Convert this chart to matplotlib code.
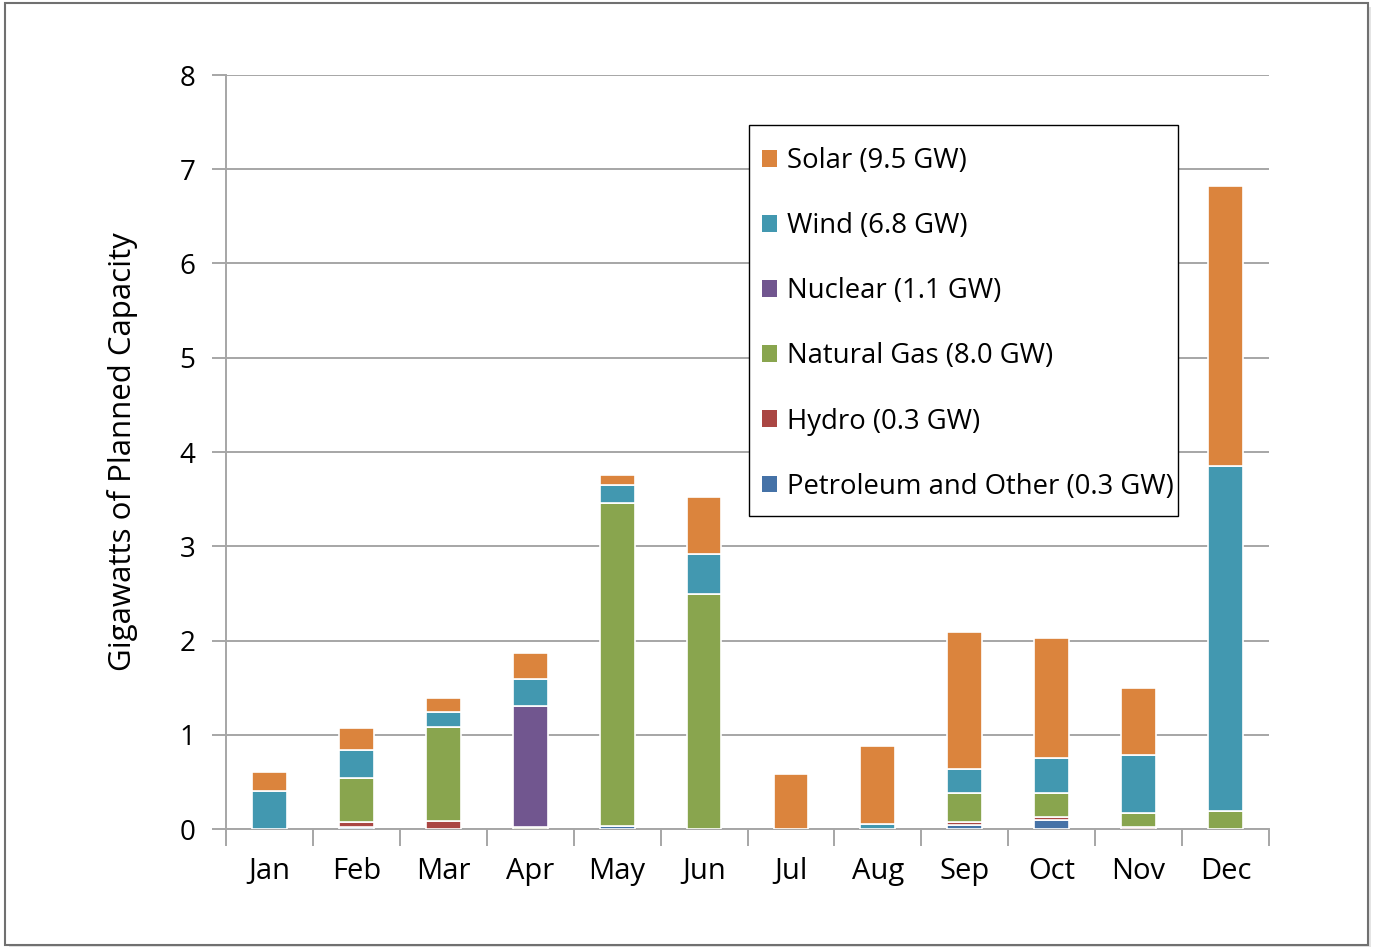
import numpy as np
import matplotlib
matplotlib.use('Agg')
import matplotlib.pyplot as plt
from matplotlib.patches import Patch, Rectangle

plt.rcParams['font.family'] = ['Open Sans', 'DejaVu Sans']

# Місяці
months = ['Jan', 'Feb', 'Mar', 'Apr', 'May', 'Jun', 'Jul', 'Aug', 'Sep', 'Oct', 'Nov', 'Dec']

# Потужність по джерелах, ГВт (знизу вгору)
petroleum = [0.00, 0.02, 0.00, 0.00, 0.03, 0.00, 0.00, 0.00, 0.04, 0.10, 0.00, 0.00]
hydro     = [0.00, 0.05, 0.09, 0.00, 0.00, 0.00, 0.00, 0.00, 0.03, 0.03, 0.02, 0.00]
gas       = [0.00, 0.47, 0.99, 0.02, 3.43, 2.49, 0.00, 0.00, 0.31, 0.25, 0.15, 0.19]
nuclear   = [0.00, 0.00, 0.00, 1.28, 0.00, 0.00, 0.00, 0.00, 0.00, 0.00, 0.00, 0.00]
wind      = [0.40, 0.30, 0.16, 0.29, 0.19, 0.43, 0.00, 0.05, 0.26, 0.37, 0.61, 3.66]
solar     = [0.21, 0.23, 0.15, 0.28, 0.11, 0.60, 0.58, 0.83, 1.45, 1.28, 0.72, 2.97]

series = [
    ('Petroleum and Other (0.3 GW)', petroleum, '#4572A7'),
    ('Hydro (0.3 GW)', hydro, '#AA4643'),
    ('Natural Gas (8.0 GW)', gas, '#89A54E'),
    ('Nuclear (1.1 GW)', nuclear, '#71568F'),
    ('Wind (6.8 GW)', wind, '#4298B0'),
    ('Solar (9.5 GW)', solar, '#DB843D'),
]

fig = plt.figure(figsize=(13.76, 9.47), dpi=100)
ax = fig.add_axes([226 / 1376, 1 - 829 / 947, (1269 - 226) / 1376, (829 - 75) / 947])

# Рамка навколо малюнка
fig.patches.append(Rectangle((9 / 1376, 0), 1362 / 1376, 1 - 7 / 947, transform=fig.transFigure,
                             facecolor='#e4e4e4', edgecolor='none', zorder=-2))
fig.patches.append(Rectangle((5 / 1376, 2 / 947), 1363 / 1376, 1 - 5 / 947, transform=fig.transFigure,
                             facecolor='white', edgecolor='#707070', linewidth=1.5, zorder=-1))

x = np.arange(len(months))
bottom = np.zeros(len(months))
for name, vals, color in series:
    vals = np.array(vals)
    ax.bar(x, vals, width=0.4, bottom=bottom, color=color, edgecolor='white',
           linewidth=1.2, zorder=3)
    bottom += vals

ax.set_xlim(-0.5, 11.5)
ax.set_ylim(0, 8)
ax.set_yticks(range(0, 9))
ax.yaxis.grid(True, color='#a6a6a6', linewidth=1.4, zorder=0)
ax.set_axisbelow(True)

ax.set_xticks(np.arange(-0.5, 12, 1))
ax.set_xticklabels([])
ax.set_xticks(x, minor=True)
ax.set_xticklabels(months, minor=True)
ax.tick_params(axis='x', which='major', length=12, width=1.4, color='#a6a6a6', direction='out')
ax.tick_params(axis='x', which='minor', length=0, pad=20, labelsize=21)
ax.tick_params(axis='y', length=10, width=1.4, color='#a6a6a6', labelsize=20, pad=12)

for s in ['top', 'right']:
    ax.spines[s].set_visible(False)
for s in ['left', 'bottom']:
    ax.spines[s].set_color('#a6a6a6')
    ax.spines[s].set_linewidth(1.4)

ax.set_ylabel('Gigawatts of Planned Capacity', fontsize=22.5, labelpad=30)

# Рамка легенди окремо
box = Rectangle((749 / 1376, 1 - 516 / 947), (1178 - 749) / 1376, (516 - 125) / 947,
                transform=fig.transFigure, facecolor='white', edgecolor='black',
                linewidth=1.0, zorder=4)
fig.patches.append(box)

handles = [Patch(facecolor=c, edgecolor='none', label=n) for n, v, c in reversed(series)]
leg = fig.legend(handles=handles, loc='upper left', bbox_to_anchor=(762 / 1376, 1 - 147 / 947),
                 fontsize=19.8, frameon=False, handlelength=0.55, handleheight=0.55,
                 handletextpad=0.36, labelspacing=1.35, borderpad=0, borderaxespad=0)
leg.set_zorder(5)

fig.savefig('out.png', dpi=100)
